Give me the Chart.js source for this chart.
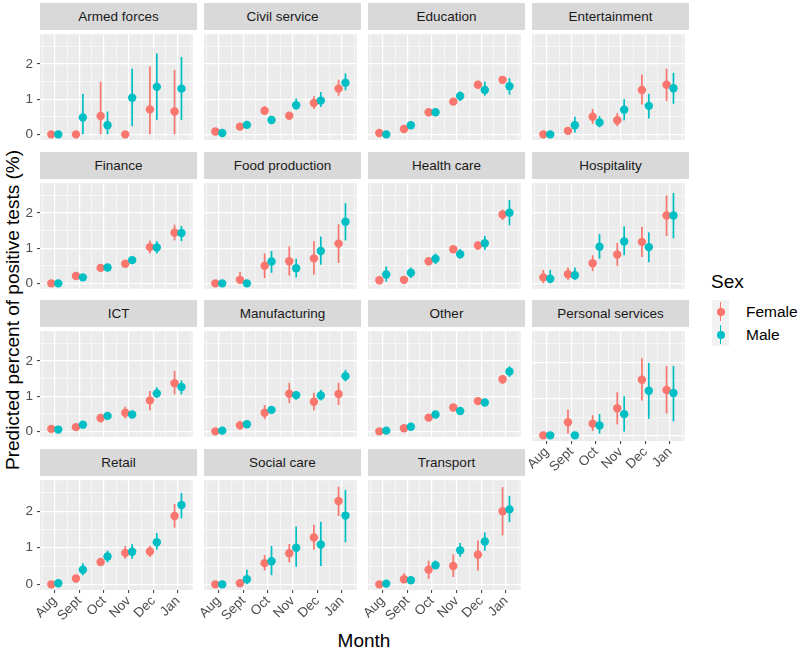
<!DOCTYPE html>
<html>
<head>
<meta charset="utf-8">
<script src="https://cdn.jsdelivr.net/npm/chart.js@4"></script>
<style>
body { margin: 0; background: #fff; font-family: "Liberation Sans", Arial, sans-serif; }
#wrap { position: relative; width: 800px; height: 652px; overflow: hidden; }
#wrap canvas { position: absolute; }
.strip { position: absolute; width: 157px; height: 27px; line-height: 27px; background: #D9D9D9; color: #1A1A1A; font-size: 13.5px; text-align: center; }
.title { position: absolute; color: #000; font-size: 19px; white-space: nowrap; }
.key { position: absolute; left: 712px; width: 17px; height: 23px; background: #F2F2F2; }
.key i { position: absolute; left: 7.7px; top: 2px; width: 1.7px; height: 19px; }
.key b { position: absolute; left: 4.5px; top: 7.5px; width: 8.4px; height: 8.4px; border-radius: 50%; }
.klab { position: absolute; left: 746px; font-size: 15.5px; color: #000; line-height: 18px; }
</style>
</head>
<body>
<div id="wrap">
  <div class="title" style="left:13px;top:310px;transform:translate(-50%,-50%) rotate(-90deg);">Predicted percent of positive tests (%)</div>
  <div class="title" style="left:364px;top:641px;transform:translate(-50%,-50%);">Month</div>
  <div class="title" style="left:711px;top:271px;">Sex</div>
  <div class="key" style="top:300px;"><i style="background:#F8766D"></i><b style="background:#F8766D"></b></div>
  <div class="key" style="top:323px;"><i style="background:#00BFC4"></i><b style="background:#00BFC4"></b></div>
  <div class="klab" style="top:303px;">Female</div>
  <div class="klab" style="top:326px;">Male</div>
</div>
<script>
// DATA

const sectors = ['Armed forces', 'Civil service', 'Education', 'Entertainment',
  'Finance', 'Food production', 'Health care', 'Hospitality',
  'ICT', 'Manufacturing', 'Other', 'Personal services',
  'Retail', 'Social care', 'Transport'];

const months = ['Aug', 'Sept', 'Oct', 'Nov', 'Dec', 'Jan'];

const yTicks = [0, 1, 2];

// one row per sector, one value per month
const femaleEst = [
  [0, 0, 0.52, 0, 0.71, 0.65],
  [0.08, 0.22, 0.67, 0.53, 0.89, 1.30],
  [0.04, 0.15, 0.63, 0.93, 1.41, 1.55],
  [0, 0.10, 0.50, 0.40, 1.26, 1.41],
  [0, 0.21, 0.44, 0.56, 1.03, 1.44],
  [0, 0.10, 0.50, 0.63, 0.71, 1.13],
  [0.09, 0.10, 0.63, 0.97, 1.08, 1.96],
  [0.17, 0.26, 0.57, 0.82, 1.18, 1.93],
  [0.07, 0.12, 0.38, 0.53, 0.88, 1.37],
  [0, 0.17, 0.53, 1.07, 0.84, 1.06],
  [0, 0.09, 0.39, 0.68, 0.86, 1.48],
  [0, 0.36, 0.32, 0.74, 1.52, 1.24],
  [0, 0.16, 0.61, 0.86, 0.90, 1.87],
  [0, 0.03, 0.58, 0.85, 1.28, 2.28],
  [0, 0.14, 0.40, 0.50, 0.81, 2.00]
];
const femaleLow = [
  [0, 0, 0, 0, 0, 0],
  [0.04, 0.17, 0.55, 0.45, 0.72, 1.10],
  [0.01, 0.10, 0.55, 0.86, 1.30, 1.45],
  [0, 0.04, 0.30, 0.23, 0.85, 0.95],
  [0, 0.15, 0.38, 0.45, 0.85, 1.22],
  [0, 0, 0.15, 0.22, 0.25, 0.58],
  [0, 0.04, 0.55, 0.90, 0.95, 1.80],
  [0, 0.10, 0.35, 0.50, 0.75, 1.35],
  [0, 0.05, 0.25, 0.37, 0.60, 1.05],
  [0, 0.05, 0.35, 0.80, 0.60, 0.75],
  [0, 0.05, 0.33, 0.62, 0.78, 1.35],
  [0, 0.05, 0.12, 0.30, 0.95, 0.60],
  [0, 0.10, 0.50, 0.70, 0.75, 1.55],
  [0, 0, 0.38, 0.60, 0.95, 1.87],
  [0, 0.05, 0.15, 0.20, 0.38, 1.34]
];
const femaleHigh = [
  [0, 0, 1.50, 0, 1.93, 1.83],
  [0.12, 0.27, 0.80, 0.63, 1.08, 1.55],
  [0.07, 0.20, 0.70, 1.00, 1.52, 1.65],
  [0, 0.20, 0.72, 0.60, 1.70, 1.87],
  [0, 0.27, 0.50, 0.65, 1.22, 1.67],
  [0, 0.32, 0.85, 1.05, 1.20, 1.68],
  [0.20, 0.18, 0.72, 1.05, 1.20, 2.10],
  [0.38, 0.45, 0.80, 1.15, 1.60, 2.50],
  [0.15, 0.20, 0.50, 0.70, 1.15, 1.72],
  [0, 0.30, 0.75, 1.38, 1.10, 1.38],
  [0, 0.13, 0.45, 0.74, 0.94, 1.60],
  [0, 0.70, 0.55, 1.18, 2.11, 1.89],
  [0, 0.22, 0.72, 1.05, 1.05, 2.20],
  [0, 0.08, 0.80, 1.10, 1.63, 2.67],
  [0, 0.30, 0.65, 0.82, 1.20, 2.66]
];

const maleEst = [
  [0, 0.48, 0.26, 1.04, 1.35, 1.30],
  [0.04, 0.27, 0.41, 0.83, 0.96, 1.47],
  [0, 0.26, 0.63, 1.09, 1.26, 1.37],
  [0, 0.26, 0.34, 0.70, 0.81, 1.31],
  [0, 0.17, 0.45, 0.66, 1.02, 1.43],
  [0, 0, 0.62, 0.43, 0.92, 1.75],
  [0.25, 0.30, 0.70, 0.83, 1.14, 2.01],
  [0.13, 0.23, 1.04, 1.19, 1.03, 1.93],
  [0.05, 0.19, 0.44, 0.48, 1.08, 1.26],
  [0.02, 0.20, 0.61, 1.03, 1.02, 1.57],
  [0.02, 0.13, 0.48, 0.58, 0.82, 1.70],
  [0, 0, 0.27, 0.58, 1.22, 1.16],
  [0.03, 0.40, 0.76, 0.89, 1.15, 2.17],
  [0, 0.14, 0.63, 1.00, 1.09, 1.88],
  [0.02, 0.11, 0.52, 0.93, 1.17, 2.05]
];
const maleLow = [
  [0, 0, 0, 0.23, 0.41, 0.41],
  [0.01, 0.22, 0.35, 0.70, 0.78, 1.25],
  [0, 0.20, 0.53, 0.95, 1.10, 1.13],
  [0, 0.05, 0.20, 0.40, 0.45, 0.87],
  [0, 0.12, 0.40, 0.55, 0.85, 1.20],
  [0, 0, 0.30, 0.17, 0.53, 1.22],
  [0.05, 0.15, 0.55, 0.70, 0.95, 1.65],
  [0, 0.10, 0.70, 0.80, 0.60, 1.28],
  [0, 0.10, 0.35, 0.40, 0.95, 1.05],
  [0, 0.14, 0.55, 0.90, 0.88, 1.42],
  [0, 0.08, 0.42, 0.50, 0.76, 1.55],
  [0, 0, 0.05, 0.10, 0.45, 0.38],
  [0, 0.25, 0.60, 0.70, 0.95, 1.80],
  [0, 0, 0.25, 0.48, 0.50, 1.15],
  [0, 0.07, 0.45, 0.75, 0.92, 1.70]
];
const maleHigh = [
  [0, 1.15, 0.65, 1.87, 2.30, 2.20],
  [0.08, 0.33, 0.50, 1.02, 1.20, 1.73],
  [0.02, 0.33, 0.75, 1.22, 1.50, 1.60],
  [0, 0.50, 0.52, 1.00, 1.15, 1.75],
  [0, 0.22, 0.50, 0.77, 1.20, 1.63],
  [0, 0, 0.92, 0.70, 1.33, 2.28],
  [0.48, 0.45, 0.85, 0.98, 1.35, 2.37],
  [0.38, 0.45, 1.40, 1.62, 1.45, 2.57],
  [0.10, 0.27, 0.55, 0.56, 1.25, 1.45],
  [0.05, 0.26, 0.67, 1.15, 1.18, 1.75],
  [0.05, 0.18, 0.54, 0.66, 0.88, 1.85],
  [0, 0, 0.58, 1.07, 1.98, 1.90],
  [0.06, 0.58, 0.92, 1.10, 1.40, 2.50],
  [0.02, 0.40, 1.05, 1.58, 1.71, 2.58],
  [0.05, 0.16, 0.65, 1.13, 1.42, 2.42]
];

const FEMALE = '#F8766D';
const MALE = '#00BFC4';

// LAYOUT

const colX = [40, 204, 368, 532];
const rowTop = [30, 178.5, 327, 475.5];
const plotW = 157, plotH = 114;
const marginL = 40, marginB = 50;
const dodge = 0.14;
// range is deliberately not a whole number of steps, so chart.js keeps ticks on 0.5 multiples
const yMin = -0.155, yMax = 2.848;

const isMajor = v => Math.abs(v - Math.round(v)) < 1e-6;

// grey panel background
const panelBg = {
  id: 'panelBg',
  beforeDraw(chart) {
    const a = chart.chartArea;
    const ctx = chart.ctx;
    ctx.save();
    ctx.fillStyle = '#EBEBEB';
    ctx.fillRect(a.left, a.top, a.right - a.left, a.bottom - a.top);
    ctx.restore();
  }
};

// vertical range line under each point
const errorBars = {
  id: 'errorBars',
  beforeDatasetDraw(chart, args) {
    const ds = chart.data.datasets[args.index];
    const xs = chart.scales.x, ys = chart.scales.y;
    const ctx = chart.ctx;
    ctx.save();
    ctx.strokeStyle = ds.backgroundColor;
    ctx.lineWidth = 1.7;
    ds.data.forEach(p => {
      if (p.hi <= p.lo) return;
      const px = xs.getPixelForValue(p.x);
      ctx.beginPath();
      ctx.moveTo(px, ys.getPixelForValue(p.lo));
      ctx.lineTo(px, ys.getPixelForValue(p.hi));
      ctx.stroke();
    });
    ctx.restore();
  }
};

function points(est, low, high, shift) {
  return months.map((m, i) => ({ x: i + shift, y: est[i], lo: low[i], hi: high[i] }));
}

const wrap = document.getElementById('wrap');
const tickFont = { family: '"Liberation Sans", Arial, sans-serif', size: 13.5 };

sectors.forEach((name, i) => {
  const col = i % 4, row = Math.floor(i / 4);
  const left = col === 0;
  const bottom = i + 4 >= sectors.length;

  const strip = document.createElement('div');
  strip.className = 'strip';
  strip.style.left = colX[col] + 'px';
  strip.style.top = (rowTop[row] - 27) + 'px';
  strip.textContent = name;
  wrap.appendChild(strip);

  const canvas = document.createElement('canvas');
  canvas.width = plotW + marginL;
  canvas.height = plotH + (bottom ? marginB : 0);
  canvas.style.left = (colX[col] - marginL) + 'px';
  canvas.style.top = rowTop[row] + 'px';
  wrap.appendChild(canvas);

  new Chart(canvas, {
    type: 'scatter',
    data: {
      datasets: [
        {
          label: 'Female',
          data: points(femaleEst[i], femaleLow[i], femaleHigh[i], -dodge),
          backgroundColor: FEMALE,
          order: 2
        },
        {
          label: 'Male',
          data: points(maleEst[i], maleLow[i], maleHigh[i], dodge),
          backgroundColor: MALE,
          order: 1
        }
      ]
    },
    options: {
      responsive: false,
      devicePixelRatio: 1,
      animation: false,
      events: [],
      layout: { padding: 0 },
      elements: {
        point: { radius: 4.2, hoverRadius: 4.2, borderWidth: 0 }
      },
      plugins: {
        legend: { display: false },
        tooltip: { enabled: false }
      },
      scales: {
        x: {
          type: 'linear',
          min: -0.6,
          max: 5.6,
          afterFit: s => { s.height = bottom ? marginB : 0; s.paddingLeft = 0; s.paddingRight = 0; },
          border: { display: false },
          grid: {
            color: '#FFFFFF',
            lineWidth: c => isMajor(c.tick.value) ? 1.2 : 0.55,
            drawTicks: bottom,
            tickLength: 3,
            tickWidth: 1,
            tickColor: c => isMajor(c.tick.value) ? '#333333' : 'rgba(0,0,0,0)'
          },
          ticks: {
            display: bottom,
            stepSize: 0.5,
            includeBounds: false,
            autoSkip: false,
            minRotation: 45,
            maxRotation: 45,
            padding: 0,
            color: '#4D4D4D',
            font: tickFont,
            callback: v => isMajor(v) ? months[Math.round(v)] : ''
          }
        },
        y: {
          type: 'linear',
          min: yMin,
          max: yMax,
          afterFit: s => { s.width = marginL; s.paddingTop = 0; s.paddingBottom = 0; },
          border: { display: false },
          grid: {
            color: '#FFFFFF',
            lineWidth: c => isMajor(c.tick.value) ? 1.2 : 0.55,
            drawTicks: left,
            tickLength: 3,
            tickWidth: 1,
            tickColor: c => isMajor(c.tick.value) ? '#333333' : 'rgba(0,0,0,0)'
          },
          ticks: {
            display: left,
            stepSize: 0.5,
            includeBounds: false,
            autoSkip: false,
            padding: 4,
            color: '#4D4D4D',
            font: tickFont,
            callback: v => yTicks.some(t => Math.abs(t - v) < 1e-6) ? String(Math.round(v)) : ''
          }
        }
      }
    },
    plugins: [panelBg, errorBars]
  });
});
</script>
</body>
</html>
